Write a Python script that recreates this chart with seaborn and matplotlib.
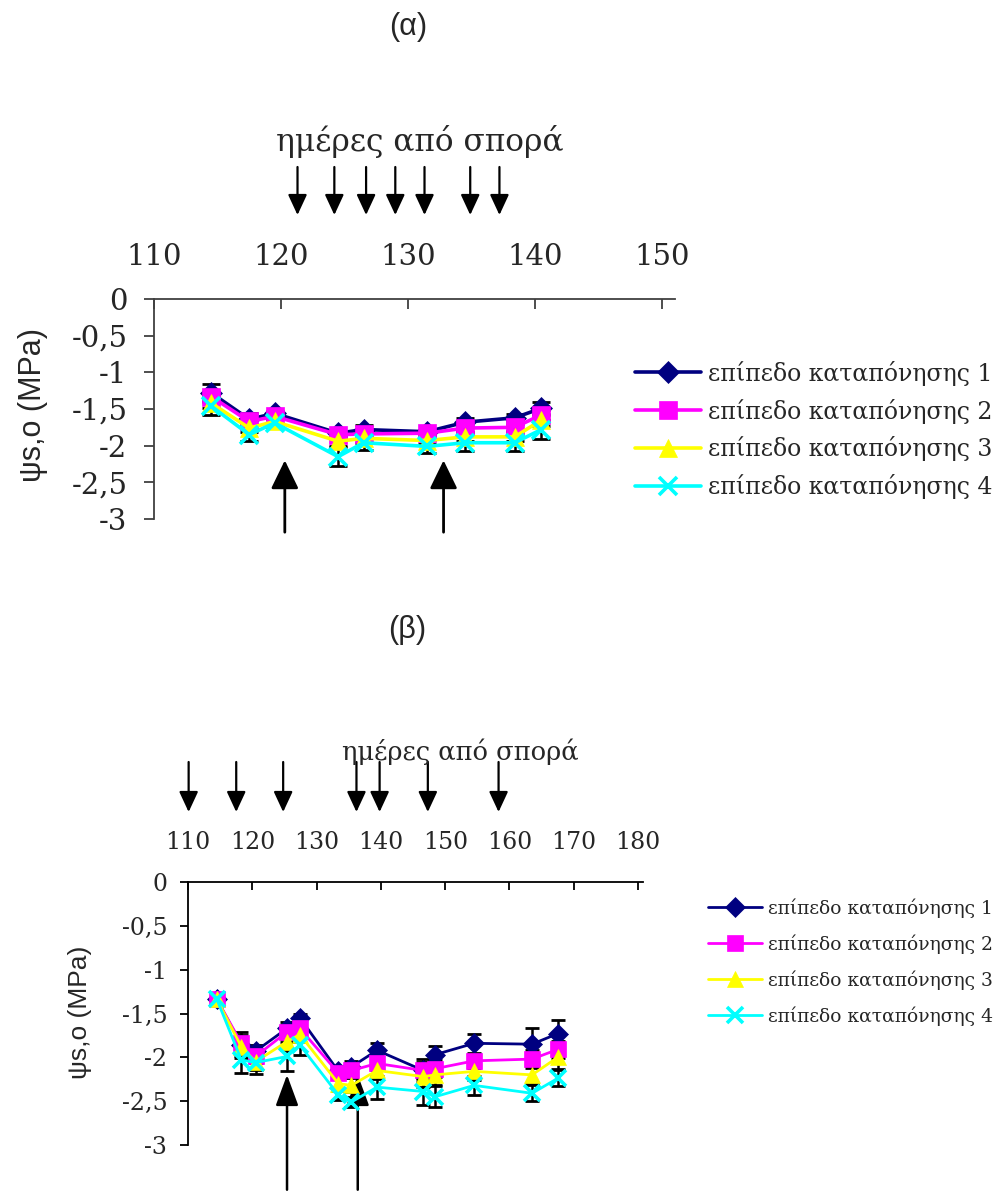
import matplotlib
matplotlib.use("Agg")
import matplotlib.pyplot as plt
import seaborn as sns
import numpy as np

# ---------------- data ----------------
series_labels = ["επίπεδο καταπόνησης 1", "επίπεδο καταπόνησης 2",
                 "επίπεδο καταπόνησης 3", "επίπεδο καταπόνησης 4"]
series_colors = ["#000080", "#FF00FF", "#FFFF00", "#00FFFF"]
series_markers = ["D", "s", "^", "x"]

# (α)
days_a = [114.5, 117.5, 119.5, 124.5, 126.5, 131.5, 134.5, 138.4, 140.5]
a1 = [-1.28, -1.64, -1.56, -1.83, -1.78, -1.81, -1.68, -1.62, -1.49]
a2 = [-1.33, -1.67, -1.60, -1.85, -1.84, -1.83, -1.76, -1.75, -1.58]
a3 = [-1.42, -1.76, -1.67, -1.94, -1.90, -1.93, -1.88, -1.88, -1.65]
a4 = [-1.46, -1.85, -1.69, -2.15, -1.96, -2.01, -1.96, -1.96, -1.78]
err_a1 = [0.12, 0.08, 0.03, 0.03, 0.06, 0.03, 0.06, 0.05, 0.09]
err_a2 = [0.06, 0.06, 0.04, 0.05, 0.05, 0.04, 0.05, 0.05, 0.07]
err_a3 = [0.07, 0.06, 0.04, 0.06, 0.06, 0.05, 0.06, 0.06, 0.08]
err_a4 = [0.12, 0.08, 0.05, 0.13, 0.10, 0.09, 0.11, 0.11, 0.13]
arrows_down_a = [121.3, 124.2, 126.7, 129.0, 131.3, 134.9, 137.2]
arrows_up_a = [120.3, 132.8]
xticks_a = [110, 120, 130, 140, 150]

# (β)
days_b = [114.5, 118.3, 120.5, 125.4, 127.4, 133.4, 135.4, 139.4, 146.6, 148.4, 154.5, 163.5, 167.5]
b1 = [-1.34, -1.86, -1.93, -1.67, -1.55, -2.16, -2.11, -1.92, -2.15, -1.97, -1.84, -1.85, -1.73]
b2 = [-1.34, -1.84, -1.99, -1.71, -1.67, -2.18, -2.15, -2.07, -2.15, -2.13, -2.04, -2.02, -1.91]
b3 = [-1.34, -1.88, -2.05, -1.82, -1.74, -2.30, -2.32, -2.15, -2.22, -2.20, -2.16, -2.20, -2.00]
b4 = [-1.34, -2.03, -2.06, -1.99, -1.86, -2.43, -2.51, -2.34, -2.39, -2.45, -2.32, -2.41, -2.24]
err_b1 = [0.02, 0.15, 0.07, 0.07, 0.04, 0.05, 0.07, 0.08, 0.13, 0.10, 0.11, 0.18, 0.16]
err_b2 = [0.02, 0.10, 0.08, 0.08, 0.06, 0.06, 0.08, 0.08, 0.10, 0.10, 0.08, 0.10, 0.10]
err_b3 = [0.02, 0.10, 0.10, 0.10, 0.08, 0.08, 0.08, 0.10, 0.12, 0.12, 0.10, 0.10, 0.13]
err_b4 = [0.02, 0.15, 0.13, 0.17, 0.11, 0.06, 0.06, 0.13, 0.15, 0.12, 0.11, 0.09, 0.09]
arrows_down_b = [110.1, 117.5, 124.8, 136.2, 139.8, 147.3, 158.3]
arrows_up_b = [125.4, 136.4]
xticks_b = [110, 120, 130, 140, 150, 160, 170, 180]

yticks = [0, -0.5, -1, -1.5, -2, -2.5, -3]
ytick_labels = ["0", "-0,5", "-1", "-1,5", "-2", "-2,5", "-3"]
xlabel_text = "ημέρες από σπορά"
ylabel_text = "ψs,o (MPa)"

# ---------------- style ----------------
sns.set_theme(style="white")
plt.rcParams["font.family"] = ["DejaVu Serif"]
SANS = ["Liberation Sans", "DejaVu Sans"]

W, H = 1008, 1193
fig = plt.figure(figsize=(W / 100, H / 100), dpi=100)


def fx(px):
    return px / W


def fy(py):
    return 1 - py / H


def draw_panel(ax, days, vals, errs, lw, ms, capsize, spine_color):
    for v, e in zip(vals, errs):
        ax.errorbar(days, v, yerr=e, fmt="none", ecolor="black",
                    elinewidth=1.8, capsize=capsize, capthick=2.0, zorder=2)
    for i, v in enumerate(vals):
        c = series_colors[i]
        m = series_markers[i]
        sns.lineplot(x=days, y=v, ax=ax, color=c, marker=m, linewidth=lw,
                     markersize=ms if m != "D" else ms * 0.85,
                     markeredgecolor=c, markerfacecolor=c,
                     markeredgewidth=2.6 if m == "x" else 0.5,
                     label=series_labels[i], legend=False, sort=False, zorder=3 + i)
    for s in ["bottom", "right"]:
        ax.spines[s].set_visible(False)
    for s in ["top", "left"]:
        ax.spines[s].set_color(spine_color)
        ax.spines[s].set_linewidth(1.3)
    ax.set_xlabel("")
    ax.set_ylabel("")
    ax.grid(False)


# ---------- panel (α) ----------
ax1 = fig.add_axes([fx(154), fy(519), fx(675) - fx(154), fy(299) - fy(519)])
draw_panel(ax1, days_a, [a1, a2, a3, a4], [err_a1, err_a2, err_a3, err_a4],
           lw=2.6, ms=13, capsize=6.5, spine_color="#404040")
ax1.set_xlim(110, 110 + (675 - 154) / 12.7)
ax1.set_ylim(-3, 0)
ax1.xaxis.tick_top()
ax1.set_xticks(xticks_a)
ax1.set_xticklabels([str(t) for t in xticks_a])
ax1.set_yticks(yticks)
ax1.set_yticklabels(ytick_labels)
ax1.tick_params(axis="x", direction="in", length=7.2, width=1.3, color="#404040",
                pad=20, labelsize=21, top=True, bottom=False,
                labeltop=True, labelbottom=False)
ax1.tick_params(axis="y", direction="out", length=7.2, width=1.3, color="#404040",
                pad=12, labelsize=21, left=True)

for d in arrows_up_a:
    ax1.annotate("", xy=(d, -2.20), xytext=(d, -3.18), xycoords="data",
                 annotation_clip=False,
                 arrowprops=dict(arrowstyle="-|>,head_length=1.75,head_width=0.85",
                                 mutation_scale=10, color="black", lw=2.0,
                                 shrinkA=0, shrinkB=0))
for d in arrows_down_a:
    ax1.annotate("", xy=(d, fy(215)), xytext=(d, fy(167)),
                 xycoords=("data", "figure fraction"),
                 textcoords=("data", "figure fraction"),
                 annotation_clip=False,
                 arrowprops=dict(arrowstyle="-|>,head_length=1.25,head_width=0.58",
                                 mutation_scale=10, color="black", lw=1.6,
                                 shrinkA=0, shrinkB=0))

h1, l1 = ax1.get_legend_handles_labels()
fig.legend(h1[:4], l1[:4], loc="center left", bbox_to_anchor=(fx(635), fy(430)),
           frameon=False, fontsize=17, handlelength=2.8, handletextpad=0.28,
           labelspacing=0.55, borderpad=0, borderaxespad=0)

fig.text(fx(408), fy(27), "(α)", ha="center", va="center", fontsize=22, family=SANS)
fig.text(fx(420), fy(142), xlabel_text, ha="center", va="center", fontsize=22.5)
fig.text(fx(33), fy(405), ylabel_text, ha="center", va="center", rotation=90,
         fontsize=22, family=SANS)

# ---------- panel (β) ----------
ax2 = fig.add_axes([fx(188), fy(1145), fx(643) - fx(188), fy(882) - fy(1145)])
draw_panel(ax2, days_b, [b1, b2, b3, b4], [err_b1, err_b2, err_b3, err_b4],
           lw=2.0, ms=12, capsize=5, spine_color="black")
ax2.set_xlim(110, 110 + (643 - 188) / 6.43)
ax2.set_ylim(-3, 0)
ax2.xaxis.tick_top()
ax2.set_xticks(xticks_b)
ax2.set_xticklabels([str(t) for t in xticks_b])
ax2.set_yticks(yticks)
ax2.set_yticklabels(ytick_labels)
ax2.tick_params(axis="x", direction="in", length=6, width=1.3, color="black",
                pad=20, labelsize=17, top=True, bottom=False,
                labeltop=True, labelbottom=False)
ax2.tick_params(axis="y", direction="out", length=6, width=1.3, color="black",
                pad=9, labelsize=17, left=True)

for d in arrows_up_b:
    ax2.annotate("", xy=(d, -2.20), xytext=(d, -3.51), xycoords="data",
                 annotation_clip=False,
                 arrowprops=dict(arrowstyle="-|>,head_length=1.9,head_width=0.7",
                                 mutation_scale=10, color="black", lw=1.8,
                                 shrinkA=0, shrinkB=0))
for d in arrows_down_b:
    ax2.annotate("", xy=(d, fy(812)), xytext=(d, fy(762)),
                 xycoords=("data", "figure fraction"),
                 textcoords=("data", "figure fraction"),
                 annotation_clip=False,
                 arrowprops=dict(arrowstyle="-|>,head_length=1.25,head_width=0.58",
                                 mutation_scale=10, color="black", lw=1.6,
                                 shrinkA=0, shrinkB=0))

h2, l2 = ax2.get_legend_handles_labels()
fig.legend(h2[:4], l2[:4], loc="center left", bbox_to_anchor=(fx(708), fy(962)),
           frameon=False, fontsize=13.5, handlelength=2.9, handletextpad=0.28,
           labelspacing=0.88, borderpad=0, borderaxespad=0)

fig.text(fx(407), fy(630), "(β)", ha="center", va="center", fontsize=22, family=SANS)
fig.text(fx(460), fy(752), xlabel_text, ha="center", va="center", fontsize=18.5)
fig.text(fx(80), fy(1012), ylabel_text, ha="center", va="center", rotation=90,
         fontsize=19, family=SANS)

fig.savefig("out.png", dpi=100)
